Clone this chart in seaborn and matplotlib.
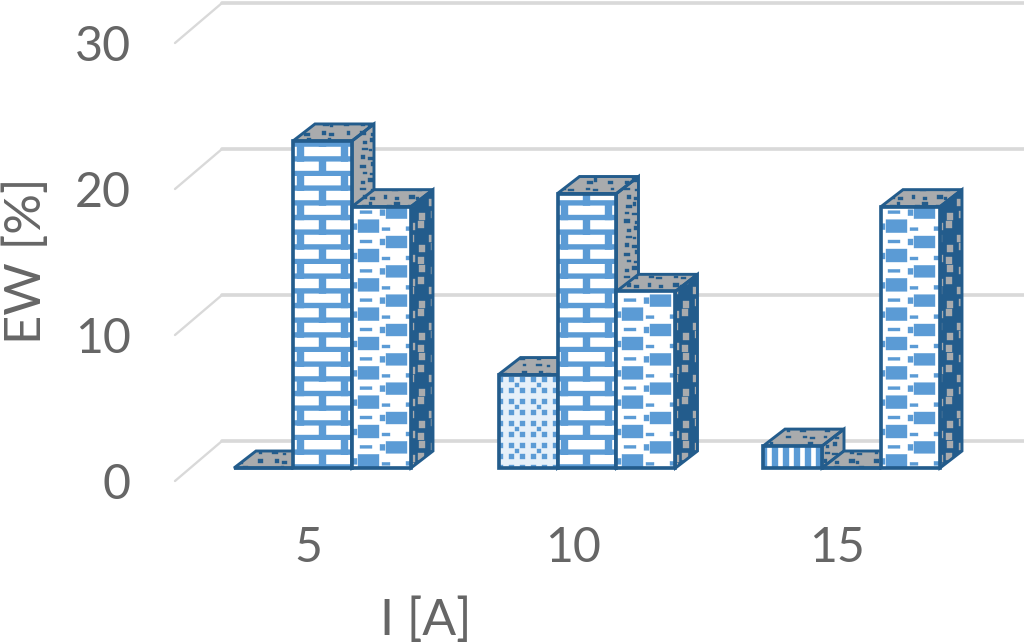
import numpy as np
import pandas as pd
import matplotlib
matplotlib.use("Agg")
import matplotlib.pyplot as plt
import matplotlib.hatch as mhatch
from matplotlib.path import Path
from matplotlib.patches import Polygon, Rectangle
import seaborn as sns

currents = ["5", "10", "15"]
series_names = ["S1", "S2", "S3"]
s1_values = [0.0, 6.4, 1.5]
s2_values = [22.4, 18.8, 0.0]
s3_values = [17.9, 12.1, 17.9]
y_ticks = [0, 10, 20, 30]

DPI = 88
W, H = 1024, 644
DARK = "#235C8C"
BLUE = "#5B9BD5"
GREY = "#A9ABAD"
TEXT = "#666666"
GRID = "#D9D9D9"


def pattern(symbol, rects):
    """Register a tile pattern built from filled rectangles (tile = 88 px)."""
    verts, codes = [], []
    for x0, y0, x1, y1 in rects:
        verts += [(x0 / 88, y0 / 88), (x1 / 88, y0 / 88), (x1 / 88, y1 / 88),
                  (x0 / 88, y1 / 88), (x0 / 88, y0 / 88)]
        codes += [Path.MOVETO, Path.LINETO, Path.LINETO, Path.LINETO, Path.CLOSEPOLY]
    verts = np.array(verts, float)
    codes = np.array(codes, dtype=Path.code_type)

    class P(mhatch.HatchPatternBase):
        def __init__(self, hatch, density):
            self.num_vertices = len(verts) if symbol in (hatch or "") else 0

        def set_vertices_and_codes(self, vertices, c):
            if self.num_vertices:
                vertices[:] = verts
                c[:] = codes
    return P


# brick
row = 88 / 6
brick = []
for r in range(6):
    y = r * row
    brick.append((0, y, 88, y + 5))
    joints = [58.5, 14.5] if r % 2 == 0 else [36.5, 80.5]
    for j in joints:
        brick.append((j - 3.5, y, j + 3.5, y + row))

# staggered blobs for the third series
blobs = []
rh = 88 / 3
for r in range(3):
    y = r * rh
    blobs += [(6, y + 2, 27, y + 15), (34, y + 16, 55, y + 28),
              (1, y + 5, 5, y + 11), (28, y + 19, 33, y + 25),
              (54, y + 4, 60, y + 8), (30, y + 4, 38, y + 7), (8, y + 21, 20, y + 24)]

dots = [(i * 11 + 3, j * 11 + 3, i * 11 + 8, j * 11 + 8) for i in range(8) for j in range(8)]
dots += [(i * 22 + 9, j * 22 + 9, i * 22 + 13, j * 22 + 13) for i in range(4) for j in range(4)]
stripes = [(i * 11 + 2, 0, i * 11 + 8, 88) for i in range(8)]
mottle = [(i * 8 + (i * 3 + j * 5) % 4, j * 8 + (i * 5 + j) % 3,
           i * 8 + (i * 3 + j * 5) % 4 + 3 + (i + 2 * j) % 4, j * 8 + (i * 5 + j) % 3 + 2 + (i * j) % 3)
          for i in range(11) for j in range(11) if (i * 7 + j * 3) % 3 != 0]
mottle_big = [(i * 11 + (i + j) % 3, j * 11 + (i * 2 + j) % 4,
               i * 11 + (i + j) % 3 + 6, j * 11 + (i * 2 + j) % 4 + 7)
              for i in range(8) for j in range(8) if (i + 2 * j) % 3 != 1]

mhatch._hatch_types[:] = [pattern("/", brick), pattern("O", blobs), pattern(".", dots),
                          pattern("|", stripes), pattern("x", mottle), pattern("*", mottle_big)]

sns.set_theme(style="white")
plt.rcParams["font.family"] = ["Lato", "DejaVu Sans"]
plt.rcParams["hatch.linewidth"] = 0.3

df = pd.DataFrame({
    "I": currents * 3,
    "EW": s1_values + s2_values + s3_values,
    "series": np.repeat(series_names, 3),
})

fig = plt.figure(figsize=(W / DPI, H / DPI), dpi=DPI, facecolor="white")
ax = fig.add_axes([175 / W, (H - 481) / H, (W - 175) / W, 481 / H])
sns.barplot(data=df, x="I", y="EW", hue="series", order=currents, hue_order=series_names,
            palette=["white"] * 3, width=0.669, gap=0, saturation=1, legend=False, ax=ax)

px_x = 264.5           # pixels per category
px_y = 14.6            # pixels per value unit
ax.set_xlim(-147.5 / px_x, -147.5 / px_x + (W - 175) / px_x)
ax.set_ylim(-13 / px_y, 468 / px_y)

depth_x, depth_y = 22 / px_x, 17 / px_y
front_y, back_y = -13 / px_y, 27 / px_y      # floor front / back relative to bar base
grid_dx = 47 / px_x
x0, x1 = ax.get_xlim()
for v in y_ticks:
    ax.plot([x0, x0 + grid_dx], [v + front_y, v + back_y], color=GRID, lw=1.9, zorder=1,
            clip_on=False, solid_capstyle="round")
    ax.plot([x0 + grid_dx, x1], [v + back_y, v + back_y], color=GRID, lw=3, zorder=1,
            clip_on=False)

front_hatches = [".", "/", "O"]
front_faces = ["#E6F0F9", "white", "white"]
side_faces = [GREY, GREY, DARK]
side_hatch_cols = [DARK, DARK, GREY]
side_hatches = ["x", "x", "*"]
for s, container in enumerate(ax.containers):
    for b, bar in enumerate(container):
        xl, w, h = bar.get_x(), bar.get_width(), bar.get_height()
        z = 3 + s * 0.1
        top = [(xl, h), (xl + w, h), (xl + w + depth_x, h + depth_y), (xl + depth_x, h + depth_y)]
        side = [(xl + w, 0), (xl + w + depth_x, depth_y), (xl + w + depth_x, h + depth_y), (xl + w, h)]
        ax.add_patch(Polygon(top, closed=True, fc=GREY, ec=DARK, hatch="x", lw=0, zorder=z))
        ax.add_patch(Polygon(side, closed=True, fc=side_faces[s], ec=side_hatch_cols[s],
                             hatch=side_hatches[s], lw=0, zorder=z))
        for poly in (top, side):
            ax.add_patch(Polygon(poly, closed=True, fill=False, ec=DARK, lw=2.4, zorder=z + 0.01,
                                 joinstyle="miter"))
        hatch = "|" if (s == 0 and b == 2) else front_hatches[s]
        bar.set(facecolor=front_faces[s] if hatch != "|" else "white", edgecolor=BLUE,
                hatch=hatch, linewidth=0, zorder=z + 0.02)
        ax.add_patch(Rectangle((xl, 0), w, h, fill=False, ec=DARK, lw=3.0, zorder=z + 0.03,
                               joinstyle="miter"))

ax.set_yticks([v + front_y for v in y_ticks], labels=[str(v) for v in y_ticks])
ax.set_xticks([i - 14 / px_x for i in range(len(currents))], labels=currents)
ax.tick_params(axis="y", length=0, pad=36, labelsize=39.5, labelcolor=TEXT)
ax.tick_params(axis="x", length=0, pad=37, labelsize=39.5, labelcolor=TEXT)
ax.grid(False)
sns.despine(ax=ax, left=True, bottom=True)

ax.set_xlabel("I [A]", fontsize=41, color=TEXT, va="center", ha="center")
ax.xaxis.set_label_coords(426 / W, (H - 621) / H, transform=fig.transFigure)
ax.set_ylabel("EW [%]", fontsize=41.5, color=TEXT, va="center", ha="center")
ax.yaxis.set_label_coords(27 / W, (H - 261) / H, transform=fig.transFigure)

fig.savefig("out.png", dpi=DPI, facecolor="white")
